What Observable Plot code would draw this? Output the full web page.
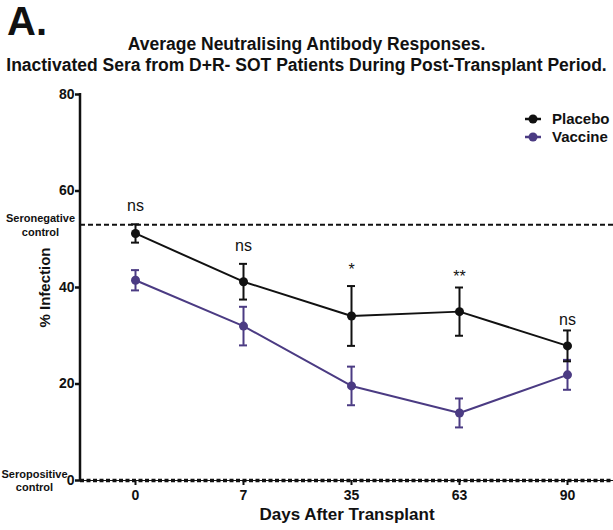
<!DOCTYPE html>
<html>
<head>
<meta charset="utf-8">
<script src="https://cdn.jsdelivr.net/npm/d3@7"></script>
<script src="https://cdn.jsdelivr.net/npm/@observablehq/plot@0.6"></script>
<style>
  html, body { margin: 0; padding: 0; background: #fff; }
  #wrap { position: relative; width: 613px; height: 530px; font-family: "Liberation Sans", Arial, sans-serif; color: #111; overflow: hidden; }
  #header { position: relative; height: 80px; }
  #panel { position: absolute; left: 7px; top: 1px; font-size: 40px; font-weight: bold; line-height: 1; }
  #title { position: absolute; left: 0; top: 34px; width: 613px; text-align: center; font-size: 17.5px; font-weight: bold; line-height: 21px; white-space: nowrap; }
  #legend { position: absolute; left: 524px; top: 110px; font-size: 15px; font-weight: bold; line-height: 18px; }
  #legend div { display: flex; align-items: center; }
  #legend svg { margin-right: 10px; }
  #chart svg { display: block; }
</style>
</head>
<body>
<div id="wrap">
  <div id="header">
    <div id="panel">A.</div>
    <div id="title">Average Neutralising Antibody Responses.<br>Inactivated Sera from D+R- SOT Patients During Post-Transplant Period.</div>
  </div>
  <div id="chart"></div>
  <div id="legend"></div>
</div>
<script>
// ---- data ----
const days = ["0", "7", "35", "63", "90"];
const placeboMean = [51.2, 41.2, 34.1, 35.0, 27.9];
const placeboErr  = [1.9, 3.7, 6.2, 5.0, 3.2];
const vaccineMean = [41.5, 32.0, 19.6, 14.0, 21.9];
const vaccineErr  = [2.1, 4.0, 4.0, 3.0, 3.1];
const sigLabels = ["ns", "ns", "*", "**", "ns"];
const sigY = [57.0, 48.7, 43.6, 42.3, 33.2];
const yTicks = [0, 20, 40, 60, 80];
const seroNegative = 53;
const seroPositive = 0;
const seriesNames = ["Placebo", "Vaccine"];
const seriesColors = ["#111111", "#4b3b83"];

// ---- tables built from arrays ----
const placebo = days.map((d, i) => ({day: d, mean: placeboMean[i], lo: placeboMean[i] - placeboErr[i], hi: placeboMean[i] + placeboErr[i]}));
const vaccine = days.map((d, i) => ({day: d, mean: vaccineMean[i], lo: vaccineMean[i] - vaccineErr[i], hi: vaccineMean[i] + vaccineErr[i]}));
const sig = days.map((d, i) => ({day: d, y: sigY[i], text: sigLabels[i]}));

function seriesMarks(data, color) {
  return [
    Plot.ruleX(data, {x: "day", y1: "lo", y2: "hi", stroke: color, strokeWidth: 2}),
    Plot.ruleY(data, {x1: "day", x2: "day", y: "lo", stroke: color, strokeWidth: 2, insetLeft: -4, insetRight: -4}),
    Plot.ruleY(data, {x1: "day", x2: "day", y: "hi", stroke: color, strokeWidth: 2, insetLeft: -4, insetRight: -4}),
    Plot.line(data, {x: "day", y: "mean", stroke: color, strokeWidth: 2}),
    Plot.dot(data, {x: "day", y: "mean", fill: color, r: 4.5})
  ];
}

const yAxisLine = (index, scales, values, dims) => {
  const l = d3.create("svg:line")
    .attr("x1", dims.marginLeft).attr("x2", dims.marginLeft)
    .attr("y1", dims.marginTop - 1).attr("y2", dims.height - dims.marginBottom)
    .attr("stroke", "#111").attr("stroke-width", 2.5);
  return l.node();
};

const chart = Plot.plot({
  width: 613,
  height: 450,
  marginTop: 14,
  marginBottom: 50,
  marginLeft: 80,
  marginRight: 0,
  style: {fontFamily: "Liberation Sans, Arial, sans-serif", background: "transparent", color: "#111", overflow: "visible"},
  x: {type: "point", domain: days, range: [80, 622], padding: 0.5},
  y: {domain: [0, 80]},
  marks: [
    Plot.ruleY([seroNegative], {stroke: "#111", strokeWidth: 2, strokeDasharray: "5,3"}),
    Plot.ruleY([seroPositive], {stroke: "#111", strokeWidth: 1.2}),
    Plot.ruleY([seroPositive], {stroke: "#111", strokeWidth: 3.5, strokeDasharray: "4,2.5"}),
    yAxisLine,
    Plot.axisY({ticks: yTicks, tickSize: 5, tickPadding: 1, fontSize: 14, fontWeight: "bold", strokeWidth: 2.5, label: null}),
    Plot.axisX({tickSize: 5, tickPadding: 5, fontSize: 14, fontWeight: "bold", strokeWidth: 2, label: null}),
    Plot.text(["Seronegative\ncontrol"], {frameAnchor: "left", y: [seroNegative], dx: -40, textAnchor: "middle", lineAnchor: "middle", fontSize: 11, fontWeight: "bold", lineHeight: 1.2}),
    Plot.text(["Seropositive\ncontrol"], {frameAnchor: "left", y: [seroPositive], dx: -46, textAnchor: "middle", lineAnchor: "middle", fontSize: 11, fontWeight: "bold", lineHeight: 1.2}),
    ...seriesMarks(vaccine, seriesColors[1]),
    ...seriesMarks(placebo, seriesColors[0]),
    Plot.text(sig, {x: "day", y: "y", text: "text", fontSize: 16, fill: "#111"}),
    Plot.text(["% Infection"], {frameAnchor: "left", dx: -35, rotate: -90, textAnchor: "middle", fontSize: 15, fontWeight: "bold"}),
    Plot.text(["Days After Transplant"], {frameAnchor: "bottom", dy: 39, textAnchor: "middle", fontSize: 17, fontWeight: "bold"})
  ]
});
document.getElementById("chart").appendChild(chart);

// legend
const legend = document.getElementById("legend");
seriesNames.forEach((name, i) => {
  const row = document.createElement("div");
  row.innerHTML = `<svg width="18" height="12"><line x1="1" x2="17" y1="6" y2="6" stroke="${seriesColors[i]}" stroke-width="2.5"/><circle cx="9" cy="6" r="4.5" fill="${seriesColors[i]}"/></svg><span>${name}</span>`;
  legend.appendChild(row);
});
</script>
</body>
</html>
